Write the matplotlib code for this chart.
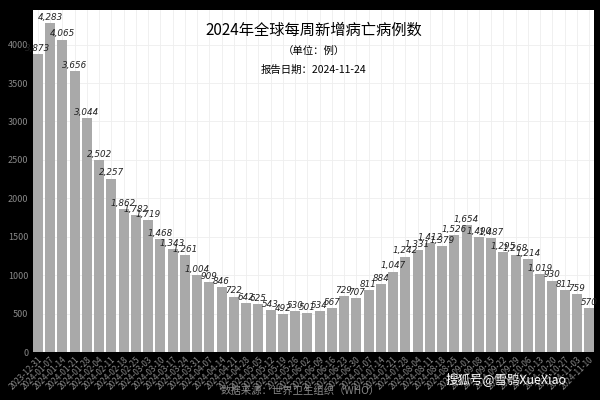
import matplotlib.pyplot as plt
import pandas as pd

plt.rcParams['font.family'] = ['Noto Sans CJK SC', 'DejaVu Sans']

dates = pd.date_range('2023-12-31', periods=46, freq='7D').strftime('%Y-%m-%d').tolist()
deaths = [3873, 4283, 4065, 3656, 3044, 2502, 2257, 1862, 1782, 1719, 1468, 1343,
          1261, 1004, 909, 846, 722, 642, 625, 543, 492, 530, 501, 534, 567, 729,
          707, 811, 884, 1047, 1242, 1331, 1412, 1379, 1526, 1654, 1490, 1487,
          1295, 1268, 1214, 1019, 930, 811, 759, 570]

fig = plt.figure(figsize=(6, 4), dpi=100, facecolor='black')
ax = fig.add_axes([0.055, 0.12, 0.935, 0.855])
ax.set_facecolor('white')
x = range(len(deaths))
ax.bar(x, deaths, width=0.8, color='#a9a9a9', zorder=2)
ax.set_xlim(-0.4, len(deaths) - 0.6)
ax.set_ylim(0, 4450)
ax.grid(True, color='#eeeeee', linewidth=0.6, zorder=0)
for s in ax.spines.values():
    s.set_visible(False)

# value labels, italic numbers
for i, v in enumerate(deaths):
    ax.text(i, v + 15, f'{v:,}', ha='center', va='bottom', fontsize=6.3,
            family='DejaVu Sans', style='italic', color='#222222', zorder=3)

ax.set_xticks(list(x))
ax.set_xticklabels(dates, rotation=45, ha='right', rotation_mode='anchor', fontsize=6, color='#888888')
ax.tick_params(axis='y', labelsize=6.5, colors='#888888', length=0)
ax.tick_params(axis='x', length=0, pad=2)

ax.text(0.5, 0.965, '2024年全球每周新增病亡病例数', transform=ax.transAxes, ha='center', va='top', fontsize=11)
ax.text(0.5, 0.895, '（单位：例）', transform=ax.transAxes, ha='center', va='top', fontsize=7.5)
ax.text(0.5, 0.84, '报告日期：2024-11-24', transform=ax.transAxes, ha='center', va='top', fontsize=7.5)

fig.text(0.5, 0.01, '数据来源：世界卫生组织（WHO）', ha='center', va='bottom', fontsize=7.5, color='#888888')
fig.text(0.945, 0.035, '搜狐号@雪鸮XueXiao', ha='right', va='bottom', fontsize=9, color='white')

fig.savefig('out.png', dpi=100, facecolor='black')
